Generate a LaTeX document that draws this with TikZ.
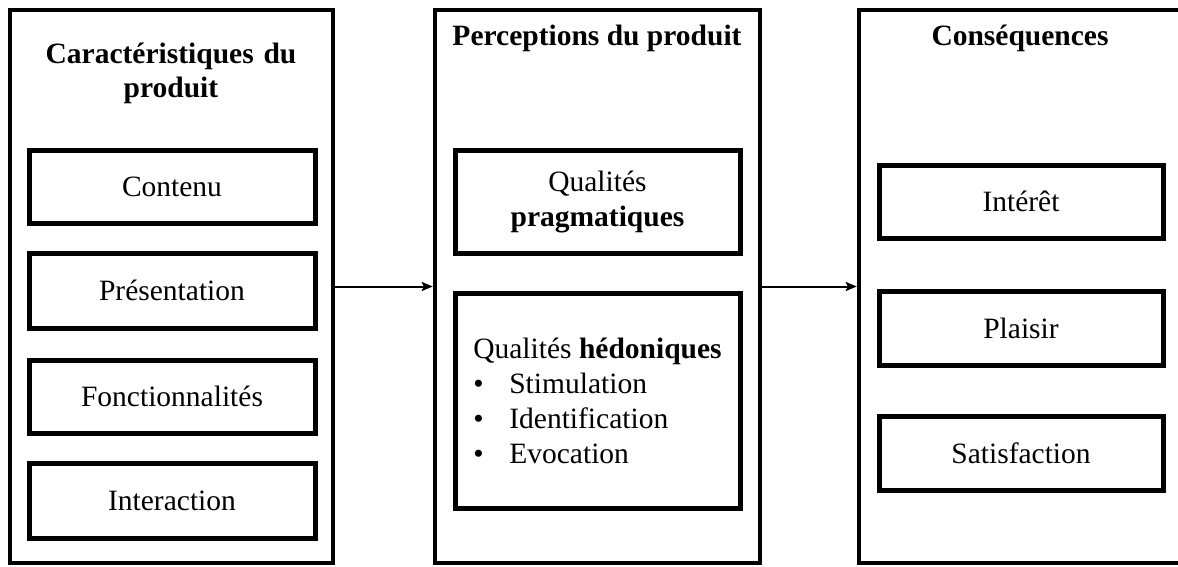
\documentclass[tikz,border=0pt]{standalone}
\usepackage{fontspec}
\setmainfont{Liberation Serif}
\usetikzlibrary{arrows.meta}
\begin{document}
\begin{tikzpicture}[x=1pt,y=-1pt,
  col/.style={draw, line width=4.5pt, inner sep=0pt, minimum height=553pt},
  item/.style={draw, line width=5pt, inner sep=0pt, font=\fontsize{29.5}{35}\selectfont, align=center},
  coltitle/.style={font=\fontsize{29.5}{34}\selectfont\bfseries, align=center, inner sep=0pt, anchor=base},
  flow/.style={-{Stealth[length=11pt,width=9pt,inset=2pt]}, line width=2pt}
]
\useasboundingbox (0,0) rectangle (1178,566);
\clip (0,0) rectangle (1178,566);

% columns
\node[col, minimum width=323pt] (L) at (171.5,286.5) {};
\node[col, minimum width=325pt] (M) at (597.5,286.5) {};
\node[col, minimum width=322pt] (R) at (1020,286.5) {};

% titles
\node[coltitle, text width=300pt] (Lt) at (171,63) {Caractéristiques du\\produit};
\node[coltitle] (Mt) at (597,45) {Perceptions du produit};
\node[coltitle] (Rt) at (1020,45) {Conséquences};

% left items
\node[item, minimum width=286pt, minimum height=73pt] (c1) at (172,186.5) {Contenu};
\node[item, minimum width=286pt, minimum height=75pt] (c2) at (172,290.5) {Présentation};
\node[item, minimum width=286pt, minimum height=73pt] (c3) at (172,396.5) {Fonctionnalités};
\node[item, minimum width=286pt, minimum height=75pt] (c4) at (172,500.5) {Interaction};

% middle items
\node[item, minimum width=285pt, minimum height=103pt] (p1) at (597.5,201.5) {Qualités\\\textbf{pragmatiques}};
\node[item, minimum width=285pt, minimum height=215pt, align=left] (p2) at (597.5,400.5)
  {Qualités \textbf{hédoniques}\\\makebox[36pt][l]{•}Stimulation\\\makebox[36pt][l]{•}Identification\\\makebox[36pt][l]{•}Evocation};

% right items
\node[item, minimum width=284pt, minimum height=73pt] (r1) at (1021,201.5) {Intérêt};
\node[item, minimum width=284pt, minimum height=74pt] (r2) at (1021,328) {Plaisir};
\node[item, minimum width=284pt, minimum height=74pt] (r3) at (1021,453) {Satisfaction};

% connectors
\draw[flow] (L) -- (M);
\draw[flow] (M) -- (R);
\end{tikzpicture}
\end{document}
